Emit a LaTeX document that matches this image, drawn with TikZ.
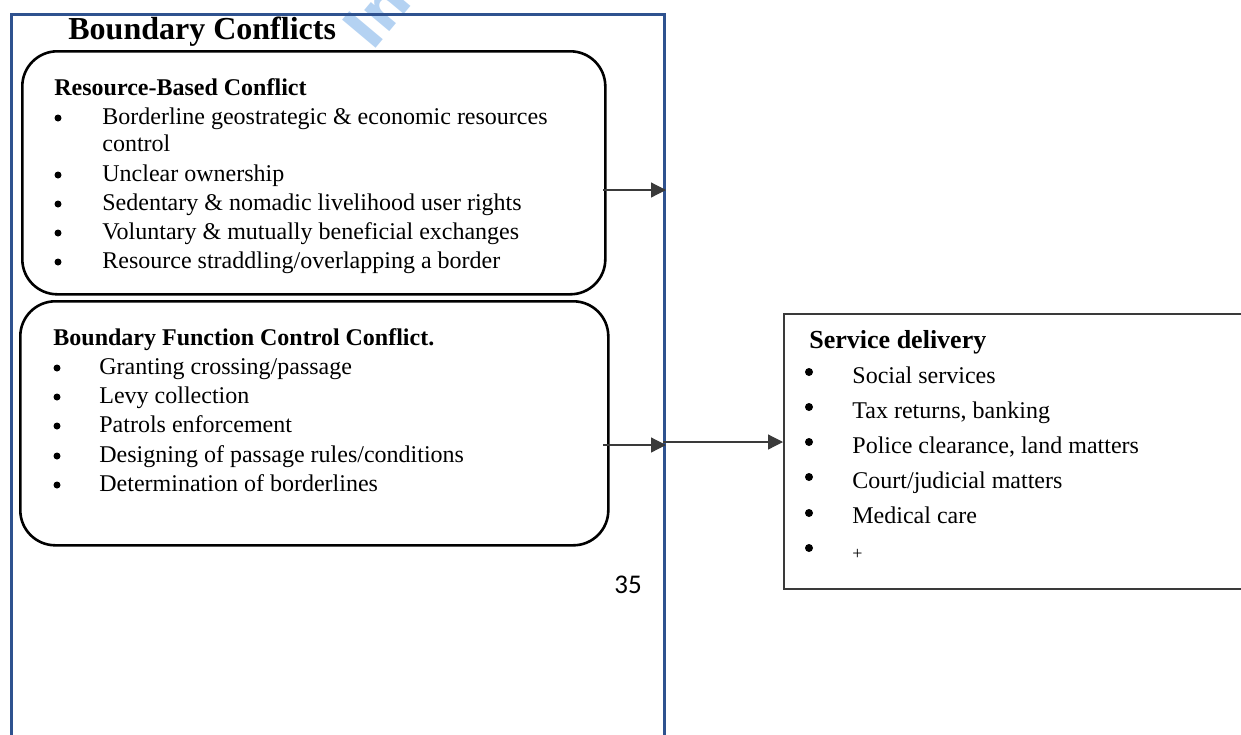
\documentclass[tikz,border=0pt]{standalone}
\usepackage{fontspec}
\setmainfont{Liberation Serif}
\newfontfamily\calibrifont{Carlito}
\newfontfamily\wmfont{DejaVu Sans}
\usetikzlibrary{arrows.meta}
\definecolor{frameblue}{HTML}{2F528F}
\definecolor{arrgray}{HTML}{3A3A3A}
\definecolor{wmblue}{HTML}{B4D2F2}
\begin{document}
\begin{tikzpicture}[x=0.5pt,y=-0.5pt,
  framebox/.style={draw=frameblue,line width=1.5pt,rectangle,inner sep=0pt,anchor=north west},
  rbox/.style={draw=black,line width=1.3pt,rounded corners=17.5pt,inner sep=0pt,anchor=north west},
  sbox/.style={draw=arrgray,line width=1pt,inner sep=0pt,anchor=north west},
  arr/.style={draw=arrgray,line width=0.6pt,-{Triangle[length=7.5pt,width=7.5pt]}},
  txt/.style={anchor=base west,inner sep=0pt,font=\fontsize{12}{14}\selectfont},
  head/.style={anchor=base west,inner sep=0pt,font=\fontsize{12}{14}\selectfont\bfseries},
  titletxt/.style={anchor=base west,inner sep=0pt,font=\fontsize{16}{19}\selectfont\bfseries},
  shead/.style={anchor=base west,inner sep=0pt,font=\fontsize{13}{15}\selectfont\bfseries},
  bul/.style={fill=black},
]
\useasboundingbox (0,0) rectangle (1241,734);

% faint watermark (partly outside the page)
\begin{scope}
\clip (0,0) rectangle (1241,734);
\node[anchor=base west,inner sep=0pt,rotate=50,text=wmblue,font=\wmfont\bfseries\fontsize{30}{34}\selectfont] (wm) at (372,53) {In};
\end{scope}

% frame and boxes
\node[framebox,minimum width=326.75pt,minimum height=393.75pt] (frame) at (9.5,12.5) {};
\node[rbox,fill=white,minimum width=291.5pt,minimum height=121.5pt] (box1) at (21,50) {};
\node[rbox,minimum width=294pt,minimum height=122pt] (box2) at (19,300) {};
\node[sbox,minimum width=238.5pt,minimum height=137.5pt] (sbox) at (783,313) {};

% title
\node[titletxt] (title) at (68,39) {Boundary Conflicts};

% box 1
\node[head] (h1) at (54,95) {Resource-Based Conflict};
\node[txt] (a1) at (102,124) {Borderline geostrategic \& economic resources};
\node[txt] (a1b) at (102,151) {control};
\node[txt] (a2) at (102,181) {Unclear ownership};
\node[txt] (a3) at (102,210) {Sedentary \& nomadic livelihood user rights};
\node[txt] (a4) at (102,239) {Voluntary \& mutually beneficial exchanges};
\node[txt] (a5) at (102,268) {Resource straddling/overlapping a border};
\foreach \y in {118,175,204,233,262} \fill[bul] (58,\y) circle[radius=1.75pt];

% box 2
\node[head] (h2) at (53,345) {Boundary Function Control Conflict.};
\node[txt] (b1) at (99,374) {Granting crossing/passage};
\node[txt] (b2) at (99,403) {Levy collection};
\node[txt] (b3) at (99,432) {Patrols enforcement};
\node[txt] (b4) at (99,462) {Designing of passage rules/conditions};
\node[txt] (b5) at (99,491) {Determination of borderlines};
\foreach \y in {368,397,426,456,485} \fill[bul] (57,\y) circle[radius=1.75pt];

% page number
\node[anchor=base west,inner sep=0pt,font=\calibrifont\fontsize{13.5}{16}\selectfont] (pnum) at (614,593) {35};

% service delivery
\node[shead] (h3) at (809,348) {Service delivery};
\node[txt] (c1) at (852,383) {Social services};
\node[txt] (c2) at (852,418) {Tax returns, banking};
\node[txt] (c3) at (852,453) {Police clearance, land matters};
\node[txt] (c4) at (852,488) {Court/judicial matters};
\node[txt] (c5) at (852,523) {Medical care};
\node[anchor=base west,inner sep=0pt,font=\fontsize{9}{11}\selectfont] (c6) at (852,559) {+};
\foreach \y in {372,407,442,477,513,548} \fill[bul] (809,\y) circle[radius=2pt];

% connectors
\coordinate (s1) at (603,190);
\coordinate (s2) at (603,445);
\coordinate (s3) at (663,442);
\draw[arr] (s1) -- (frame.east |- s1);
\draw[arr] (s2) -- (frame.east |- s2);
\draw[arr] (s3) -- (sbox.west |- s3);
\end{tikzpicture}
\end{document}
